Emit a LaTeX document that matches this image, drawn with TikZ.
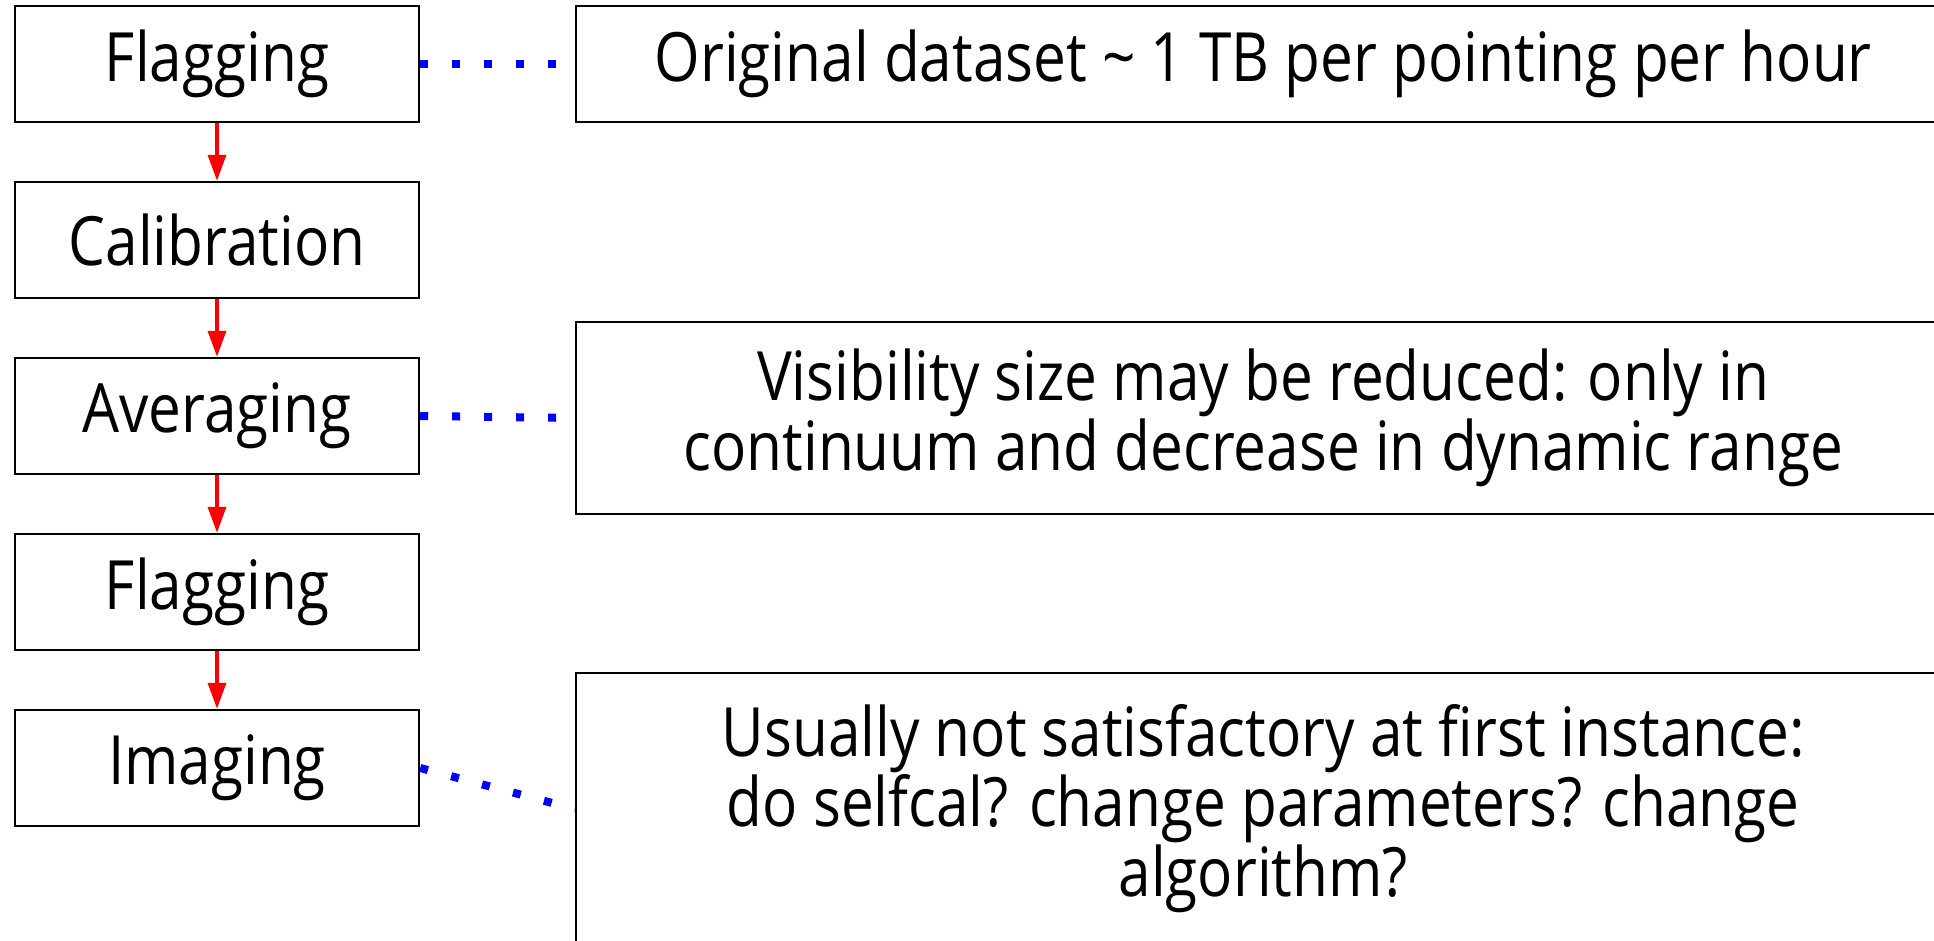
\documentclass[tikz,border=0pt]{standalone}
\usepackage{fontspec}
\setmainfont{Open Sans}[FakeStretch=0.86]
\usetikzlibrary{positioning,arrows.meta}

\begin{document}
\begin{tikzpicture}[x=0.5pt, y=-0.5pt]
  \tikzset{every node/.style={font=\fontsize{34}{35}\selectfont},
           stepbox/.style={draw, line width=1.2pt, minimum width=202pt, minimum height=58pt, inner sep=0pt},
           notebox/.style={draw, line width=1.2pt, minimum width=687pt, inner sep=0pt, align=center, anchor=west},
           flow/.style={red, line width=1.75pt, -{Triangle[length=13pt,width=9pt]}},
           link/.style={blue, line width=4pt, dash pattern=on 4pt off 12pt}}
  \useasboundingbox (0,0) rectangle (1934,941);
  \clip (0,0) rectangle (1934,941);
  % pipeline steps
  \node[stepbox] (flag1) at (217,64) {Flagging};
  \node[stepbox, below=28.8pt of flag1] (calib) {Calibration};
  \node[stepbox, below=28.8pt of calib] (avg) {Averaging};
  \node[stepbox, below=28.8pt of avg] (flag2) {Flagging};
  \node[stepbox, below=28.8pt of flag2] (img) {Imaging};
  % notes
  \node[notebox, minimum height=58pt] (note1) at (575,64) {Original dataset \textasciitilde{} 1 TB per pointing per hour};
  \node[notebox, minimum height=96pt] (note2) at (575,418) {Visibility size may be reduced: only in\\continuum and decrease in dynamic range};
  \node[notebox, minimum height=136pt] (note3) at (575,809) {Usually not satisfactory at first instance:\\do selfcal? change parameters? change\\algorithm?};
  \draw[flow] (flag1) -- (calib);
  \draw[flow] (calib) -- (avg);
  \draw[flow] (avg) -- (flag2);
  \draw[flow] (flag2) -- (img);
  \draw[link] (flag1.east) -- (note1.west);
  \draw[link] (avg.east) -- (note2.west);
  \draw[link] (img.east) -- (note3.west);
\end{tikzpicture}
\end{document}
